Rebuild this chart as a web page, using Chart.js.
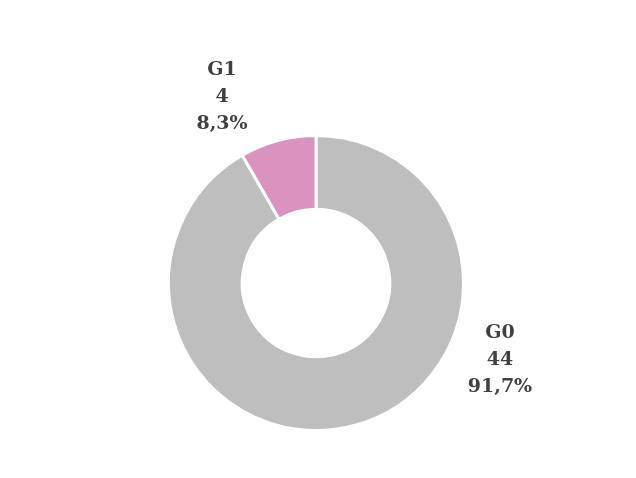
<!DOCTYPE html>
<html>
<head>
<meta charset="utf-8">
<script src="https://cdn.jsdelivr.net/npm/chart.js@4"></script>
<style>
  html, body { margin: 0; padding: 0; background: #ffffff; }
  #wrap { width: 636px; height: 478px; position: relative; }
</style>
</head>
<body>
<div id="wrap"><canvas id="pie"></canvas></div>
<script>
// data
const groups = ["G0", "G1"];
const counts = [44, 4];
const percentText = ["91,7%", "8,3%"];
const sliceColors = ["#bebebe", "#da92bf"];

// label placement relative to the doughnut centre (layout only)
const labelOffsets = [
  { dx: 184, dy: 77 },
  { dx: -94, dy: -186 },
];

// draws the three-line label next to every slice
const sliceLabels = {
  id: "sliceLabels",
  afterDatasetsDraw(chart) {
    const { ctx } = chart;
    const meta = chart.getDatasetMeta(0);
    ctx.save();
    ctx.font = "bold 19px 'DejaVu Serif'";
    ctx.fillStyle = "#404040";
    ctx.textAlign = "center";
    ctx.textBaseline = "middle";
    meta.data.forEach((arc, i) => {
      const cx = arc.x + labelOffsets[i].dx;
      const cy = arc.y + labelOffsets[i].dy;
      const lines = [groups[i], String(counts[i]), percentText[i]];
      lines.forEach((t, k) => {
        ctx.fillText(t, cx, cy + (k - 1) * 27);
      });
    });
    ctx.restore();
  },
};

const pie_config = {
  type: "doughnut",
  data: {
    labels: groups,
    datasets: [
      {
        data: counts,
        backgroundColor: sliceColors,
        borderColor: "#ffffff",
        borderWidth: 3,
        hoverOffset: 0,
      },
    ],
  },
  options: {
    responsive: false,
    animation: false,
    cutout: "50%",
    rotation: 0,
    layout: {
      padding: { top: 134, bottom: 46, left: 167, right: 171 },
    },
    plugins: {
      legend: { display: false },
      tooltip: { enabled: false },
      title: { display: false },
    },
  },
  plugins: [sliceLabels],
};

const canvas = document.getElementById("pie");
canvas.width = 636;
canvas.height = 478;
new Chart(canvas.getContext("2d"), pie_config);
</script>
</body>
</html>
